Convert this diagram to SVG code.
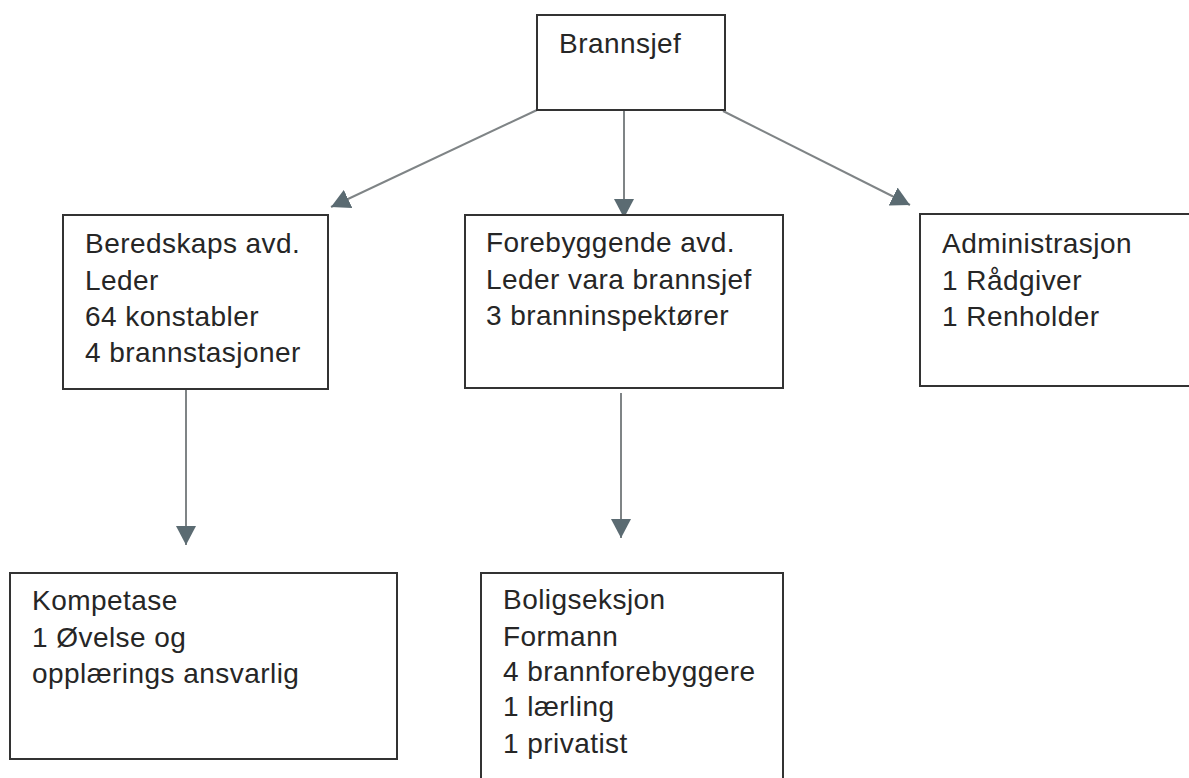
<svg xmlns="http://www.w3.org/2000/svg" width="1189" height="778" viewBox="0 0 1189 778">
<style>
.box{fill:#fff;stroke:#333;stroke-width:2}
.t{font-family:"Liberation Sans",Arial,sans-serif;font-size:28px;letter-spacing:0.45px;fill:#262626}
.c{stroke:#7f8486;stroke-width:2;fill:none;marker-end:url(#ah)}
</style>
<defs>
<marker id="ah" markerUnits="userSpaceOnUse" markerWidth="20" markerHeight="20" viewBox="0 0 18 18" refX="17" refY="9" orient="auto">
<path d="M0,0 L17,9 L0,18 Z" fill="#5b6b72"/>
</marker>
</defs>
<rect width="1189" height="778" fill="#fff"/>
<g id="connectors">
<line class="c" x1="537" y1="110" x2="331" y2="207"/>
<line class="c" x1="624" y1="111" x2="624" y2="218"/>
<line class="c" x1="723" y1="111" x2="910" y2="205"/>
<line class="c" x1="186" y1="390" x2="186" y2="545"/>
<line class="c" x1="621" y1="393" x2="621" y2="538"/>
</g>
<g id="brannsjef">
<rect class="box" x="537" y="15" width="188" height="95"/>
<text class="t" x="559" y="53">Brannsjef</text>
</g>
<g id="beredskap">
<rect class="box" x="63" y="215" width="265" height="174"/>
<text class="t" x="85" y="253">Beredskaps avd.</text>
<text class="t" x="85" y="290">Leder</text>
<text class="t" x="85" y="326">64 konstabler</text>
<text class="t" x="85" y="362">4 brannstasjoner</text>
</g>
<g id="forebyggende">
<rect class="box" x="465" y="215" width="318" height="173"/>
<text class="t" x="486" y="252">Forebyggende avd.</text>
<text class="t" x="486" y="289">Leder vara brannsjef</text>
<text class="t" x="486" y="325">3 branninspektører</text>
</g>
<g id="administrasjon">
<rect class="box" x="920" y="214" width="280" height="172"/>
<text class="t" x="942" y="253">Administrasjon</text>
<text class="t" x="942" y="290">1 Rådgiver</text>
<text class="t" x="942" y="326">1 Renholder</text>
</g>
<g id="kompetase">
<rect class="box" x="10" y="573" width="387" height="186"/>
<text class="t" x="32" y="610">Kompetase</text>
<text class="t" x="32" y="647">1 Øvelse og</text>
<text class="t" x="32" y="683">opplærings ansvarlig</text>
</g>
<g id="boligseksjon">
<rect class="box" x="481" y="573" width="302" height="220"/>
<text class="t" x="503" y="609">Boligseksjon</text>
<text class="t" x="503" y="646">Formann</text>
<text class="t" x="503" y="681">4 brannforebyggere</text>
<text class="t" x="503" y="716">1 lærling</text>
<text class="t" x="503" y="753">1 privatist</text>
</g>
</svg>
